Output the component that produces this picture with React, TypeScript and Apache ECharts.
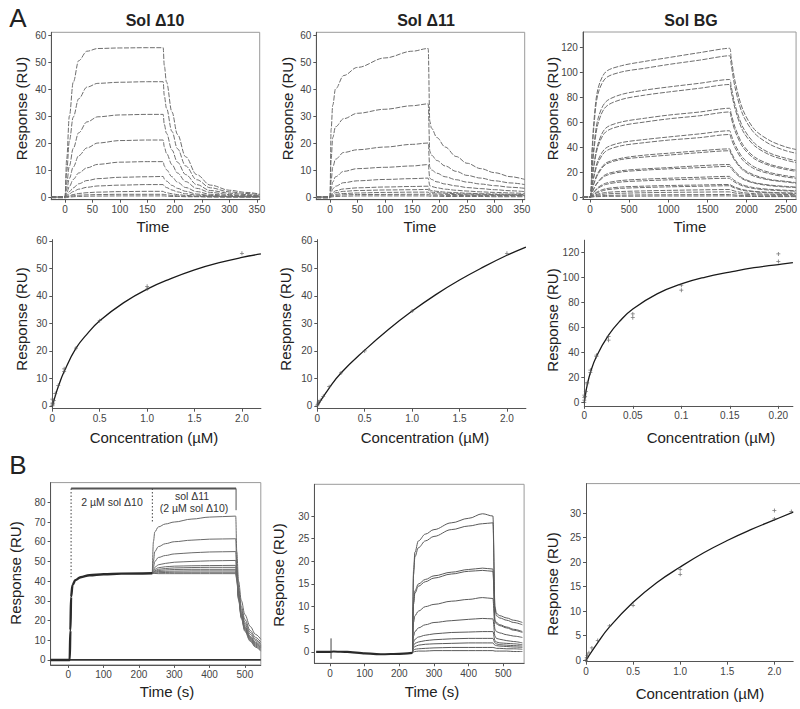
import React, { useEffect, useRef } from 'react';
import * as echarts from 'echarts';

// ---------------- Panel A, row 1: sensorgrams ----------------
const d10Times = [-25, 0, 3, 8, 15, 25, 40, 60, 100, 150, 179, 181, 185, 195, 205, 220, 240, 265, 300, 330, 355];
const d10Curves = [
  [0, 0, 14, 30, 42.5, 50.5, 54, 55, 55.2, 55.3, 55.3, 48.7, 42.6, 31.5, 23.2, 14.9, 8.3, 4.4, 2.5, 1.7, 1.1],
  [0, 0, 9.4, 20.8, 29.6, 36.4, 40.7, 42.1, 42.5, 42.7, 42.7, 37.6, 32.9, 24.3, 17.9, 11.5, 6.4, 3.4, 1.9, 1.3, 0.9],
  [0, 0, 5.1, 11.5, 18, 23.8, 27.8, 29.7, 30.4, 30.6, 30.6, 26.9, 23.6, 17.4, 12.9, 8.3, 4.6, 2.4, 1.4, 0.9, 0.6],
  [0, 0, 2.9, 6.9, 11.1, 15.3, 18.2, 20, 20.9, 21.1, 21.1, 18.6, 16.2, 12, 8.9, 5.7, 3.2, 1.7, 0.9, 0.6, 0.4],
  [0, 0, 1.6, 3.9, 6.5, 8.9, 10.8, 12.1, 12.9, 13.1, 13.1, 11.5, 10.1, 7.5, 5.5, 3.5, 2, 1, 0.6, 0.4, 0.3],
  [0, 0, 0.8, 2, 3.4, 4.9, 6.1, 6.8, 7.3, 7.5, 7.6, 6.7, 5.9, 4.3, 3.2, 2.1, 1.1, 0.6, 0.3, 0.2, 0.2],
  [0, 0, 0.5, 1.2, 2, 2.9, 3.6, 4.1, 4.4, 4.6, 4.6, 4, 3.5, 2.6, 1.9, 1.2, 0.7, 0.4, 0.2, 0.1, 0.1],
  [0, 0, 0.2, 0.5, 0.9, 1.3, 1.6, 1.8, 2, 2.1, 2.1, 1.8, 1.6, 1.2, 0.9, 0.6, 0.3, 0.2, 0.1, 0.1, 0],
  [0, 0, 0.1, 0.25, 0.45, 0.65, 0.8, 0.9, 1, 1, 1, 0.9, 0.8, 0.6, 0.4, 0.3, 0.2, 0.1, 0, 0, 0],
  [-0.3, -0.3, -0.2, 0, 0.1, 0.2, 0.3, 0.35, 0.4, 0.4, 0.4, 0.4, 0.3, 0.2, 0.2, 0.1, 0.1, 0, 0, 0, 0],
];

const d11Times = [-25, 0, 2, 5, 10, 25, 50, 100, 150, 179, 182, 185, 195, 210, 230, 250, 275, 300, 330, 355];
const d11Curves = [
  [0, 0, 25, 34, 40, 45, 48, 51.5, 54, 55, 28, 25.5, 22, 18.5, 15, 12.5, 10.5, 9, 7.5, 6.5],
  [0, 0, 14, 22, 26, 29, 31, 32.5, 33.8, 34.5, 17, 15.5, 13.5, 11.5, 9.5, 8, 7, 6, 5.2, 4.6],
  [0, 0, 6, 11, 14, 16.5, 17.5, 18.5, 19.5, 20, 11, 10, 8.8, 7.5, 6.4, 5.5, 4.8, 4.2, 3.6, 3.2],
  [0, 0, 3, 5.5, 7.5, 9.5, 10.5, 11, 11.5, 12, 7, 6.5, 5.6, 4.8, 4.1, 3.5, 3.1, 2.7, 2.3, 2],
  [0, 0, 1.5, 3, 4, 5.3, 6, 6.5, 6.8, 7, 4.2, 3.9, 3.4, 2.9, 2.5, 2.2, 1.9, 1.7, 1.5, 1.3],
  [0, 0, 0.8, 1.6, 2.3, 3, 3.4, 3.7, 3.9, 4, 2.6, 2.4, 2.1, 1.8, 1.6, 1.4, 1.2, 1.1, 1, 0.9],
  [0, 0, 0.5, 1.1, 1.6, 2.1, 2.4, 2.6, 2.7, 2.8, 1.9, 1.8, 1.6, 1.4, 1.2, 1.1, 1, 0.9, 0.8, 0.7],
  [0, 0, 0.3, 0.7, 1, 1.3, 1.5, 1.7, 1.8, 1.8, 1.3, 1.2, 1.1, 1, 0.9, 0.8, 0.7, 0.6, 0.6, 0.5],
  [0, 0, 0.2, 0.4, 0.6, 0.8, 0.9, 0.95, 1, 1, 0.8, 0.7, 0.7, 0.6, 0.6, 0.5, 0.5, 0.4, 0.4, 0.4],
  [-0.4, -0.4, 0, 0.1, 0.2, 0.3, 0.4, 0.4, 0.4, 0.4, 0.3, 0.3, 0.3, 0.2, 0.2, 0.2, 0.2, 0.1, 0.1, 0.1],
];

const bgTimes = [-90, 0, 25, 50, 100, 200, 400, 700, 1000, 1400, 1780, 1800, 1850, 1950, 2100, 2300, 2500, 2630];
const bgCurves = [
  [0, 0, 35, 60, 86, 100, 105, 108.5, 111.5, 115.5, 119, 112, 93, 70, 54, 45, 40, 38],
  [0, 0, 32, 56, 82, 95, 100, 103, 106, 109.5, 113, 107, 88, 66, 51, 42, 37, 35],
  [0, 0, 22, 40, 62, 76, 82, 85.5, 88, 91, 94, 89, 74, 56, 43, 35, 31, 29],
  [0, 0, 20, 37, 58, 72, 78, 81.5, 84, 87, 90, 85, 71, 53, 41, 33.5, 29.5, 27.5],
  [0, 0, 14, 26, 42, 55, 60, 63, 65.5, 68, 71, 67, 56, 42, 32, 26, 23, 21.5],
  [0, 0, 13, 24, 40, 52, 57, 60, 62.5, 65, 68, 64, 53, 40, 30.5, 25, 22, 20.5],
  [0, 0, 9, 17, 29, 39, 43.5, 46, 48, 50.5, 53, 50, 42, 31.5, 24, 19.5, 17, 16],
  [0, 0, 8, 16, 27, 36.5, 41, 43.5, 45.5, 47.5, 50, 47, 39.5, 29.5, 22.5, 18.5, 16, 15],
  [0, 0, 6, 11, 19, 27, 31, 33.5, 35, 37, 38.5, 36, 30, 22.5, 17.5, 14, 12.5, 11.5],
  [0, 0, 5.5, 10.5, 18, 26, 30, 32, 33.5, 35.5, 37, 34.5, 29, 21.5, 16.5, 13.5, 12, 11],
  [0, 0, 3.5, 7, 12, 18, 21, 22.5, 23.5, 25, 26, 24.5, 20.5, 15, 11.5, 9.5, 8.5, 8],
  [0, 0, 3.2, 6.5, 11.5, 17, 20, 21.5, 22.5, 23.5, 24.5, 23, 19.3, 14.3, 11, 9, 8, 7.5],
  [0, 0, 2, 4, 7.5, 11, 13.2, 14.3, 15, 15.8, 16.5, 15.5, 13, 9.7, 7.4, 6.1, 5.4, 5],
  [0, 0, 1.8, 3.6, 6.8, 10, 12, 13, 13.7, 14.4, 15, 14, 11.8, 8.8, 6.7, 5.5, 4.9, 4.6],
  [0, 0, 1.1, 2.3, 4.4, 6.6, 8, 8.7, 9.2, 9.6, 10, 9.4, 7.9, 5.9, 4.5, 3.7, 3.3, 3.1],
  [0, 0, 0.9, 1.9, 3.6, 5.6, 6.9, 7.6, 8.1, 8.6, 9, 8.5, 7.1, 5.3, 4.1, 3.3, 3, 2.8],
  [0, 0, 0.6, 1.2, 2.3, 3.6, 4.4, 4.9, 5.3, 5.7, 6, 5.6, 4.7, 3.5, 2.7, 2.2, 2, 1.9],
  [0, 0, 0.4, 0.8, 1.5, 2.4, 3, 3.4, 3.7, 3.9, 4.1, 3.8, 3.2, 2.4, 1.8, 1.5, 1.4, 1.3],
  [0, 0, 0.2, 0.4, 0.8, 1.2, 1.5, 1.7, 1.8, 1.9, 2, 1.9, 1.6, 1.2, 0.9, 0.8, 0.7, 0.6],
  [0, 0, 0.1, 0.2, 0.3, 0.5, 0.6, 0.7, 0.8, 0.8, 0.9, 0.8, 0.7, 0.5, 0.4, 0.3, 0.3, 0.3],
];

// ---------------- Panel A, row 2: binding isotherms ----------------
const d10Points = [[0, 0], [0, 1], [0, 2.5], [0.004, 0.4], [0.008, 1], [0.0156, 2], [0.031, 4.5], [0.0625, 7.5], [0.125, 12.5], [0.125, 13.5], [0.25, 21], [0.5, 31], [1.0, 42.5], [1.0, 43.5], [2.0, 55.5]];
const d10Fit = [[0, 0], [0.03, 3.5], [0.0625, 7], [0.125, 12.5], [0.25, 21], [0.375, 26.5], [0.5, 31], [0.75, 37.5], [1, 42.5], [1.25, 46.3], [1.5, 49.5], [1.75, 52], [2, 54], [2.2, 55.3]];

const d11Points = [[0, 0], [0.004, 0.5], [0.008, 1], [0.0156, 1.5], [0.031, 2], [0.0625, 3.5], [0.125, 7], [0.25, 12], [0.5, 20], [1.0, 34.5], [2.0, 55.5]];
const d11Fit = [[0, 0], [0.125, 6.5], [0.25, 12], [0.5, 20.3], [0.75, 27.8], [1, 34.5], [1.25, 40.5], [1.5, 45.8], [1.75, 50.5], [2, 54.8], [2.2, 57.8]];

const bgPoints = [[0, 0], [0, 2], [0, 4], [0, 6], [0.0008, 5], [0.0016, 9], [0.003, 15], [0.003, 16], [0.00625, 24], [0.00625, 26], [0.0125, 37], [0.0125, 38], [0.025, 50], [0.025, 53], [0.05, 68], [0.05, 71], [0.1, 90], [0.1, 94], [0.2, 113], [0.2, 119]];
const bgFit = [[0, 0], [0.0015, 8], [0.003, 14], [0.00625, 24], [0.0125, 37], [0.025, 54], [0.0375, 66], [0.05, 75], [0.075, 87], [0.1, 95], [0.125, 100.5], [0.15, 104.5], [0.175, 108], [0.2, 110.5], [0.215, 112]];

// ---------------- Panel B ----------------
const bCommonTimes = [-50, 4, 6, 8, 12, 20, 35, 60, 100, 150, 238];
const bCommonVals = [0, 0, 15, 32, 38, 40.5, 42, 43, 43.5, 43.8, 44];
const bTailTimes = [241, 245, 255, 275, 300, 350, 400, 474, 477, 482, 490, 500, 515, 530, 545];
const bTails = [
  [60, 65, 67.5, 69, 70, 71.5, 72.5, 73, 55, 40, 30, 23, 17, 13, 10.5],
  [50, 55, 57.5, 59, 60, 60.8, 61.3, 61.5, 48, 37, 27, 20.5, 15, 11.5, 9],
  [47, 50, 52, 53, 53.8, 54.4, 54.8, 55, 45, 35, 25.5, 19, 14, 10.5, 8],
  [45.5, 47, 48.3, 49, 49.6, 50, 50.3, 50.5, 44, 34, 24.5, 18, 13, 9.8, 7.3],
  [45, 46, 46.8, 47.3, 47.6, 47.8, 47.9, 48, 43, 33, 23.5, 17, 12, 9, 6.8],
  [44.5, 45.3, 46, 46.4, 46.7, 46.9, 47, 47, 42.5, 32.5, 23, 16.5, 11.5, 8.5, 6.3],
  [44.3, 45, 45.4, 45.7, 45.9, 46, 46, 46, 42, 32, 22.5, 16, 11, 8, 6],
  [44.2, 44.6, 44.9, 45, 45.1, 45.2, 45.2, 45.2, 41.5, 31.5, 22, 15.5, 10.5, 7.5, 5.5],
  [44, 44.2, 44.3, 44.4, 44.5, 44.5, 44.5, 44.5, 41, 31, 21.5, 15, 10, 7, 5],
  [43.9, 43.9, 43.8, 43.8, 43.8, 43.8, 43.8, 43.8, 40.5, 30.5, 21, 14.5, 9.5, 6.5, 4.5],
];
const bRefTimes = [-50, 545];
const bRefVals = [0, 0];
const bBarLevel = 87;
const bInjStart = 8;
const bInjSwitch = 238;
const bInjEnd = 475;

const cBaseTimes = [-40, 0, 10, 50, 100, 150, 200, 238];
const cBaseVals = [0, 0, 0.1, 0, -0.3, -0.5, -0.4, -0.2];
const cSpikeTimes = [3, 3];
const cSpikeVals = [-1.5, 3];
const cTailTimes = [241, 245, 255, 275, 300, 350, 400, 440, 470, 476, 480, 490, 510, 530, 555];
const cTails = [
  [18, 22, 24.5, 26, 27, 28.5, 29.5, 30.5, 30, 10, 8.5, 8, 7.5, 7, 6.5],
  [17, 21, 23, 24.5, 25.5, 27, 27.8, 28.3, 28.5, 9.5, 8, 7.5, 7, 6.5, 6],
  [11, 13.5, 15, 16, 16.8, 17.6, 18.2, 18.5, 18.3, 7, 6.5, 6, 5.5, 5, 4.5],
  [10.5, 13, 14.5, 15.5, 16.3, 17.2, 17.8, 18, 17.8, 6.8, 6.2, 5.8, 5.3, 4.8, 4.3],
  [6.5, 8, 9, 10, 10.5, 11.2, 11.6, 12, 11.8, 5, 4.5, 4.2, 3.8, 3.5, 3.2],
  [3.5, 4.5, 5.3, 6, 6.5, 6.9, 7.2, 7.4, 7.3, 3.5, 3, 2.8, 2.5, 2.3, 2],
  [2.2, 2.8, 3.3, 3.7, 4, 4.3, 4.4, 4.5, 4.5, 2.5, 2.2, 2, 1.9, 1.8, 1.6],
  [1.4, 1.9, 2.2, 2.5, 2.7, 2.9, 3, 3, 3, 2, 1.8, 1.6, 1.5, 1.4, 1.3],
  [0.9, 1.2, 1.5, 1.7, 1.8, 1.9, 2, 2, 2, 1.5, 1.4, 1.3, 1.2, 1.1, 1],
  [0.4, 0.6, 0.7, 0.8, 0.9, 1, 1, 1, 1, 0.9, 0.8, 0.8, 0.7, 0.7, 0.6],
  [0, 0.1, 0.2, 0.2, 0.3, 0.3, 0.3, 0.3, 0.3, 0.2, 0.2, 0.2, 0.2, 0.1, 0.1],
];

const bPoints = [[0, 0], [0.008, 0.5], [0.0156, 1], [0.031, 1.5], [0.0625, 2.5], [0.125, 4], [0.25, 7], [0.5, 11.2], [1, 17.5], [1, 18.5], [2, 28.8], [2, 30.5], [2.18, 30.3]];
const bFit = [[0, 0], [0.125, 3.6], [0.25, 6.8], [0.5, 11.8], [0.75, 15.8], [1, 19], [1.25, 21.9], [1.5, 24.4], [1.75, 26.6], [2, 28.6], [2.2, 30.2]];

// ---------------- ticks ----------------
const ticksTime350 = [0, 50, 100, 150, 200, 250, 300, 350];
const ticksTimeBG = [0, 500, 1000, 1500, 2000, 2500];
const ticksTime500 = [0, 100, 200, 300, 400, 500];
const ticksResp60 = [0, 10, 20, 30, 40, 50, 60];
const ticksResp120 = [0, 20, 40, 60, 80, 100, 120];
const ticksResp80 = [0, 10, 20, 30, 40, 50, 60, 70, 80];
const ticksResp30 = [0, 5, 10, 15, 20, 25, 30];
const ticksConc = [0, 0.5, 1, 1.5, 2];
const labelsConc = ['0', '0.5', '1.0', '1.5', '2.0'];
const ticksConcBG = [0, 0.05, 0.1, 0.15, 0.2];
const labelsConcBG = ['0', '0.05', '0.1', '0.15', '0.20'];

const FONT = '"Liberation Sans", Arial, Helvetica, sans-serif';
const PLUS = 'path://M1.6,0H2.4V1.6H4V2.4H2.4V4H1.6V2.4H0V1.6H1.6Z';

type Panel = {
  l: number; t: number; w: number; h: number;
  x: [number, number]; y: [number, number];
  xt: number[]; yt: number[]; xl?: string[]; box: boolean;
};

const panels: Panel[] = [
  { l: 51.3, t: 32.3, w: 208.4, h: 167.4, x: [-25, 355], y: [-1, 61], xt: ticksTime350, yt: ticksResp60, box: true },
  { l: 316.3, t: 32.3, w: 208.4, h: 167.4, x: [-25, 355], y: [-1, 61], xt: ticksTime350, yt: ticksResp60, box: true },
  { l: 582.9, t: 32, w: 214.3, h: 167.5, x: [-90, 2630], y: [-2, 132], xt: ticksTimeBG, yt: ticksResp120, box: true },
  { l: 52.3, t: 239.6, w: 208.6, h: 169.1, x: [0, 2.2], y: [-1, 60.5], xt: ticksConc, yt: ticksResp60, xl: labelsConc, box: false },
  { l: 317.3, t: 239.6, w: 208.6, h: 169.1, x: [0, 2.2], y: [-1, 60.5], xt: ticksConc, yt: ticksResp60, xl: labelsConc, box: false },
  { l: 584.3, t: 240.2, w: 208.6, h: 165.6, x: [0, 0.215], y: [-2.5, 130], xt: ticksConcBG, yt: ticksResp120, xl: labelsConcBG, box: false },
  { l: 50.6, t: 482.6, w: 210.2, h: 182.3, x: [-50, 545], y: [-2.5, 90], xt: ticksTime500, yt: ticksResp80, box: true },
  { l: 314.4, t: 484.3, w: 209.7, h: 179, x: [-45, 560], y: [-2.5, 37], xt: ticksTime500, yt: ticksResp30, box: true },
  { l: 586, t: 483.6, w: 207.2, h: 178.1, x: [0, 2.2], y: [-0.3, 36], xt: ticksConc, yt: ticksResp30, xl: labelsConc, box: false },
];

function lineSeries(gi: number, data: number[][], color: string, width: number, type: any = 'solid', smooth: number = 0.35, mono: boolean = true) {
  return {
    type: 'line', xAxisIndex: gi, yAxisIndex: gi, data, showSymbol: false, symbol: 'none',
    smooth, smoothMonotone: mono ? 'x' : undefined, silent: true, lineStyle: { color, width, type }, z: 2,
  };
}
function curves(gi: number, times: number[], rows: number[][], color: string, width: number, type: any, mono: boolean = true) {
  return rows.map((r) => lineSeries(gi, times.map((t, i) => [t, r[i]]), color, width, type, mono ? 0.35 : 0.3, mono));
}
function fitLine(gi: number, data: number[][]) {
  return lineSeries(gi, data, '#1a1a1a', 1.3, 'solid', 0.45, false);
}
function scatter(gi: number, data: number[][]) {
  return {
    type: 'scatter', xAxisIndex: gi, yAxisIndex: gi, data, symbol: PLUS, symbolSize: 4,
    itemStyle: { color: '#555' }, silent: true, z: 3,
  };
}

export default function App() {
  const ref = useRef<HTMLDivElement>(null);
  useEffect(() => {
    const chart = echarts.init(ref.current!, null, { renderer: 'svg' });

    const grid = panels.map((p) => ({
      left: p.l, top: p.t, width: p.w, height: p.h, containLabel: false,
      show: p.box, borderColor: '#9a9a9a', borderWidth: 1, backgroundColor: 'transparent',
    }));
    const axisCommon = {
      axisLine: { show: true, onZero: false, lineStyle: { color: '#555', width: 1 } },
      splitLine: { show: false },
    };
    const xAxis = panels.map((p, i) => ({
      type: 'value', gridIndex: i, min: p.x[0], max: p.x[1], ...axisCommon,
      axisTick: { show: true, length: 3, customValues: p.xt, lineStyle: { color: '#555' } },
      axisLabel: {
        customValues: p.xt, fontSize: 10, color: '#444', margin: 5, fontFamily: FONT,
        formatter: (v: number) => {
          if (!p.xl) return String(v);
          const k = p.xt.findIndex((t) => Math.abs(t - v) < 1e-9);
          return k >= 0 ? p.xl[k] : '';
        },
      },
    }));
    const yAxis = panels.map((p, i) => ({
      type: 'value', gridIndex: i, min: p.y[0], max: p.y[1], ...axisCommon,
      axisTick: { show: true, length: 3, customValues: p.yt, lineStyle: { color: '#555' } },
      axisLabel: { customValues: p.yt, fontSize: 10, color: '#444', margin: 5, fontFamily: FONT },
    }));

    const dash = [5, 1.5];
    const lastB = [bCommonTimes[bCommonTimes.length - 1], bCommonVals[bCommonVals.length - 1]];
    const lastC = [cBaseTimes[cBaseTimes.length - 1], cBaseVals[cBaseVals.length - 1]];
    const series: any[] = [
      ...curves(0, d10Times, d10Curves, '#6e6e6e', 1, dash),
      ...curves(1, d11Times, d11Curves, '#6e6e6e', 1, dash),
      ...curves(2, bgTimes, bgCurves, '#6e6e6e', 1, dash, false),
      fitLine(3, d10Fit),
      scatter(3, d10Points),
      fitLine(4, d11Fit),
      scatter(4, d11Points),
      fitLine(5, bgFit),
      scatter(5, bgPoints),
      // panel B1
      lineSeries(6, bRefTimes.map((t, i) => [t, bRefVals[i]]), '#333', 1.8, 'solid', 0),
      ...bTails.map((r) => lineSeries(6, [lastB, ...bTailTimes.map((t, i) => [t, r[i]])], '#6a6a6a', 1, 'solid')),
      lineSeries(6, bCommonTimes.map((t, i) => [t, bCommonVals[i]]), '#2a2a2a', 2.4, 'solid'),
      lineSeries(6, [[bInjStart, bBarLevel], [bInjEnd, bBarLevel]], '#555', 2.2, 'solid', 0),
      lineSeries(6, [[bInjStart, bBarLevel], [bInjStart, 42]], '#444', 1, [1.5, 2], 0),
      lineSeries(6, [[bInjSwitch, bBarLevel], [bInjSwitch, 70]], '#444', 1, [1.5, 2], 0),
      lineSeries(6, [[bInjEnd, bBarLevel], [bInjEnd, 76]], '#555', 1, 'solid', 0),
      // panel B2
      ...cTails.map((r) => lineSeries(7, [lastC, ...cTailTimes.map((t, i) => [t, r[i]])], '#5a5a5a', 1, 'solid')),
      lineSeries(7, cBaseTimes.map((t, i) => [t, cBaseVals[i]]), '#2a2a2a', 2.2, 'solid', 0.2),
      lineSeries(7, cSpikeTimes.map((t, i) => [t, cSpikeVals[i]]), '#444', 1, 'solid', 0),
      // panel B3
      fitLine(8, bFit),
      scatter(8, bPoints),
    ];

    const txt = (text: string, x: number, y: number, size: number, opts: any = {}) => ({
      type: 'text', x, y, rotation: opts.rot || 0, silent: true,
      style: {
        text, fill: opts.color || '#222', fontSize: size, fontFamily: FONT,
        fontWeight: opts.bold ? 'bold' : 'normal', align: 'center', verticalAlign: 'middle',
      },
    });
    const R = Math.PI / 2;
    const graphic = [
      txt('A', 18, 18, 26),
      txt('B', 18, 465, 26),
      txt('Sol \u039410', 155, 20, 16, { bold: true }),
      txt('Sol \u039411', 426, 20, 16, { bold: true }),
      txt('Sol BG', 691, 20, 16, { bold: true }),
      txt('Time', 153, 226, 15),
      txt('Time', 420, 226, 15),
      txt('Time', 690, 226, 15),
      txt('Concentration (\u00b5M)', 154, 437, 15),
      txt('Concentration (\u00b5M)', 425, 437, 15),
      txt('Concentration (\u00b5M)', 711, 437, 15),
      txt('Time (s)', 167, 691, 15),
      txt('Time (s)', 432, 691, 15),
      txt('Concentration (\u00b5M)', 700, 693, 15),
      txt('Response (RU)', 21.5, 108.5, 15, { rot: R }),
      txt('Response (RU)', 287, 108.5, 15, { rot: R }),
      txt('Response (RU)', 552, 108.5, 15, { rot: R }),
      txt('Response (RU)', 21, 319, 15, { rot: R }),
      txt('Response (RU)', 285, 319, 15, { rot: R }),
      txt('Response (RU)', 552, 320, 15, { rot: R }),
      txt('Response (RU)', 15, 573, 15, { rot: R }),
      txt('Response (RU)', 278.5, 575, 15, { rot: R }),
      txt('Response (RU)', 552, 584, 15, { rot: R }),
      txt('2 \u00b5M sol \u039410', 112, 502, 10.5, { color: '#333' }),
      txt('sol \u039411', 192, 496, 10.5, { color: '#333' }),
      txt('(2 \u00b5M sol \u039410)', 194, 508, 10.5, { color: '#333' }),
      { type: 'line', silent: true, shape: { x1: 586, y1: 483.6, x2: 800, y2: 483.6 }, style: { stroke: '#9a9a9a', lineWidth: 1 } },
    ];

    chart.setOption({
      animation: false,
      backgroundColor: '#fff',
      textStyle: { fontFamily: FONT },
      grid, xAxis, yAxis, series, graphic,
    });
    return () => chart.dispose();
  }, []);
  return <div ref={ref} style={{ position: 'absolute', left: 0, top: 0, width: 800, height: 709, background: '#fff' }} />;
}
